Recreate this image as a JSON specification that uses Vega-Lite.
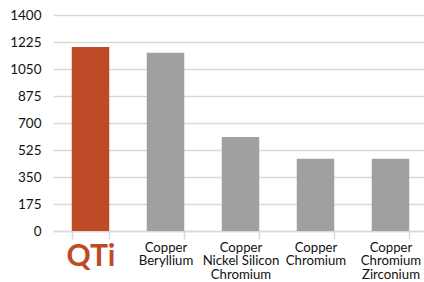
{
  "$schema": "https://vega.github.io/schema/vega-lite/v6.json",
  "autosize": "none",
  "padding": {"left": 53, "top": 15, "right": 0, "bottom": 51},
  "width": 375,
  "height": 216,
  "background": "white",
  "config": {"view": {"stroke": null}},
  "data": {
    "values": [
      {"alloy": "QTi", "strength": 1192},
      {"alloy": "Copper Beryllium", "strength": 1155},
      {"alloy": "Copper Nickel Silicon Chromium", "strength": 610},
      {"alloy": "Copper Chromium", "strength": 468},
      {"alloy": "Copper Chromium Zirconium", "strength": 468}
    ]
  },
  "mark": {"type": "bar"},
  "encoding": {
    "x": {
      "field": "alloy",
      "type": "nominal",
      "sort": null,
      "scale": {"paddingInner": 0.5, "paddingOuter": 0.25},
      "axis": {
        "title": null,
        "labelAngle": 0,
        "tickBand": "extent",
        "domainColor": "#d9d9d9",
        "domainWidth": 1.5,
        "tickColor": "#d9d9d9",
        "tickWidth": 1.5,
        "tickSize": 8,
        "labelPadding": 2,
        "labelFont": "Lato",
        "labelFontSize": {"condition": {"test": "datum.value == 'QTi'", "value": 30}, "value": 13.2},
        "labelFontWeight": {"condition": {"test": "datum.value == 'QTi'", "value": "bold"}, "value": "normal"},
        "labelColor": {"condition": {"test": "datum.value == 'QTi'", "value": "#be4b27"}, "value": "#111111"},
        "labelLineHeight": 13.6,
        "labelBaseline": "top",
        "labelLimit": 0,
        "labelExpr": "!isValid(datum.value) ? '' : datum.value == 'QTi' ? 'QTi' : datum.value == 'Copper Nickel Silicon Chromium' ? ['Copper', 'Nickel Silicon', 'Chromium'] : split(datum.value, ' ')"
      }
    },
    "y": {
      "field": "strength",
      "type": "quantitative",
      "scale": {"domain": [0, 1400], "nice": false},
      "axis": {
        "title": null,
        "values": [0, 175, 350, 525, 700, 875, 1050, 1225, 1400],
        "format": "d",
        "domain": false,
        "ticks": false,
        "gridColor": "#d9d9d9",
        "gridWidth": 1.5,
        "labelPadding": 12,
        "labelFont": "Lato",
        "labelFontSize": 13.5,
        "labelColor": "#111111"
      }
    },
    "color": {
      "field": "alloy",
      "type": "nominal",
      "scale": {
        "domain": ["QTi", "Copper Beryllium", "Copper Nickel Silicon Chromium", "Copper Chromium", "Copper Chromium Zirconium"],
        "range": ["#be4b27", "#9fa09f", "#9fa09f", "#9fa09f", "#9fa09f"]
      },
      "legend": null
    }
  }
}
